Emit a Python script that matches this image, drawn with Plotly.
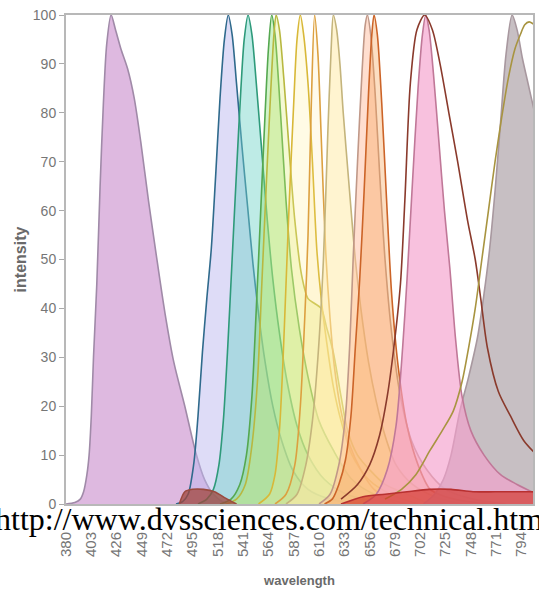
import plotly.graph_objects as go

# ---------------- data (wavelength in nm, relative intensity) ----------------
tick_vals = [380, 403, 426, 449, 472, 495, 518, 541, 564, 587, 610, 633, 656, 679, 702, 725, 748, 771, 794]
tick_text = [str(v) for v in tick_vals]
y_ticks = [0, 10, 20, 30, 40, 50, 60, 70, 80, 90, 100]

violet_wl = [380, 388, 393, 396, 399, 401, 403, 405, 408, 411, 414, 417, 421, 425, 430, 436, 442, 448, 455, 462, 470, 478, 488, 498, 506, 514, 522, 530]
violet_i = [0, 0.3, 1, 2.5, 6, 10, 18, 30, 45, 65, 82, 94, 100, 97, 93, 89, 83, 74, 62, 51, 39, 29, 20, 10.5, 5, 2, 0.5, 0]

blue_wl = [480, 486, 491, 496, 500, 504, 508, 512, 516, 520, 524, 527.5, 531, 535, 540, 545, 550, 555, 561, 568, 576, 586, 600, 620, 650]
blue_i = [0, 0.5, 2, 8, 18, 31, 42, 52, 67, 83, 95, 100, 96, 86, 73, 61, 49, 39, 29, 20, 13, 7, 3, 1, 0]

green_wl = [500, 508, 514, 519, 523, 527, 531, 535, 539, 542, 545.5, 549, 553, 558, 563, 568, 574, 581, 590, 600, 615, 635, 660]
green_i = [0, 1, 3, 8, 17, 32, 50, 68, 85, 95, 100, 96, 86, 72, 58, 46, 35, 25, 16, 10, 5, 2, 0.5]

lgreen_wl = [520, 530, 538, 544, 549, 553, 557, 561, 564, 567, 570, 575, 580, 585, 592, 600, 610, 623, 640, 660, 690]
lgreen_i = [0, 1, 4, 10, 22, 40, 60, 80, 93, 100, 96, 80, 62, 48, 36, 26, 17, 11, 5, 2, 0]

ygreen_wl = [525, 535, 543, 549, 554, 558, 562, 566, 569, 571, 574, 578, 583, 588, 594, 600, 606, 612, 617, 623, 630, 636, 645, 656, 670, 690, 710]
ygreen_i = [0, 1, 4, 12, 25, 45, 65, 84, 96, 100, 97, 87, 72, 58, 47, 42, 41, 40, 36, 31, 22, 15, 10, 7, 4, 2, 0]

gold_wl = [555, 565, 570, 574, 577, 580, 583, 587, 590, 593, 596, 600, 604, 608, 612, 617, 623, 630, 640, 655, 675, 700]
gold_i = [0, 2, 6, 15, 28, 45, 62, 82, 95, 100, 96, 86, 70, 52, 42, 33, 24, 17, 10, 5, 2, 0]

orange_wl = [570, 580, 588, 593, 597, 600, 603, 606, 609, 612, 616, 620, 624, 630, 638, 648, 660, 680]
orange_i = [0, 2, 8, 20, 38, 55, 82, 100, 92, 75, 52, 38, 28, 19, 12, 7, 3, 0]

lyellow_wl = [580, 590, 598, 604, 609, 614, 618, 621, 623, 626, 629, 632, 637, 643, 648, 655, 662, 670, 680, 695, 715, 740]
lyellow_i = [0, 2, 8, 17, 30, 50, 76, 93, 100, 97, 90, 80, 66, 50, 40, 29, 21, 14, 8, 4, 1.5, 0]

peach_wl = [610, 620, 628, 634, 638, 641, 645, 649, 652, 654, 657, 661, 665, 670, 676, 684, 694, 708, 725, 750, 780]
peach_i = [0, 2, 8, 18, 33, 50, 70, 88, 98, 100, 96, 84, 68, 50, 35, 22, 13, 7, 3, 1, 0]

red660_wl = [615, 622, 628, 634, 639, 643, 647, 651, 655, 658, 660, 663, 667, 671, 676, 682, 690, 700, 711, 725, 745, 770]
red660_i = [0, 1, 4, 9, 18, 32, 46, 64, 84, 96, 100, 96, 82, 64, 43, 28, 16, 8, 3, 1.5, 0.5, 0]

gray_wl = [705, 715, 723, 730, 738, 746, 754, 760, 765, 770, 775, 780, 785.5, 790, 795, 800, 806, 812]
gray_i = [0, 2, 5, 10, 19, 26, 34, 43, 52, 64, 78, 92, 100, 97, 91, 86, 80, 74]

pink_wl = [650, 662, 672, 680, 686, 690, 695, 700, 704, 707, 710, 714, 719, 724, 729, 734, 740, 748, 760, 775, 790, 808]
pink_i = [0, 2, 7, 16, 32, 46, 66, 85, 96, 100, 97, 88, 74, 60, 48, 34, 22, 15, 10, 6, 4, 2]

brown_wl = [630, 645, 656, 665, 672, 678, 684, 688, 693, 699, 706, 713, 720, 728, 736, 745, 752, 757, 763, 773, 784, 796, 808]
brown_i = [1, 4, 8, 14, 22, 32, 45, 62, 86, 97, 100, 97, 90, 80, 70, 58, 50, 42, 32, 23, 18, 13, 10]

olive_wl = [670, 685, 698, 711, 722, 732, 740, 746, 752, 758, 764, 770, 776, 782, 788, 793, 797, 801, 806, 812]
olive_i = [1, 3, 6, 11, 15, 19, 25, 32, 40, 50, 60, 70, 79, 87, 93, 96, 98, 98.6, 98, 97]

base1_wl = [483, 488, 495, 505, 515, 525, 535]
base1_i = [0, 2.5, 3, 3, 2.5, 1.2, 0]

base2_wl = [630, 650, 670, 690, 710, 730, 750, 770, 790, 810]
base2_i = [0, 1.5, 2, 2.5, 3, 3, 2.5, 2.5, 2.5, 2.5]

# ---------------- styles ----------------
series = [
    (violet_wl, violet_i, "rgba(214,168,216,0.8)", "#a08aa8"),
    (blue_wl, blue_i, "rgba(190,185,240,0.5)", "#2f6a8c"),
    (green_wl, green_i, "rgba(110,210,200,0.45)", "#2e9a7a"),
    (lgreen_wl, lgreen_i, "rgba(140,225,120,0.4)", "#55a850"),
    (ygreen_wl, ygreen_i, "rgba(220,235,110,0.3)", "#b8b840"),
    (gold_wl, gold_i, "rgba(255,240,150,0.25)", "#d8b838"),
    (orange_wl, orange_i, "rgba(255,220,120,0.15)", "#dca040"),
    (lyellow_wl, lyellow_i, "rgba(255,235,170,0.55)", "#c4b47c"),
    (peach_wl, peach_i, "rgba(255,190,160,0.5)", "#c09888"),
    (red660_wl, red660_i, "rgba(245,160,80,0.35)", "#cc6428"),
    (gray_wl, gray_i, "rgba(185,175,180,0.8)", "#a8989f"),
    (pink_wl, pink_i, "rgba(245,160,205,0.65)", "#c07898"),
    (brown_wl, brown_i, None, "#8a3a2c"),
    (olive_wl, olive_i, None, "#a89440"),
    (base1_wl, base1_i, "rgba(160,70,60,0.75)", "#9a4a40"),
    (base2_wl, base2_i, "rgba(210,50,40,0.65)", "#b83030"),
]

fig = go.Figure()
for wl, inten, fillc, linec in series:
    fig.add_trace(go.Scatter(
        x=wl, y=inten, mode="lines",
        line=dict(color=linec, width=1.6, shape="spline", smoothing=0.8),
        fill="tozeroy" if fillc else None,
        fillcolor=fillc,
        hoverinfo="skip", showlegend=False,
    ))

tick_font = dict(family="Liberation Sans, Arial, sans-serif", size=14, color="#767676")
xtick_font = dict(family="Liberation Sans, Arial, sans-serif", size=15, color="#767676")

fig.update_layout(
    width=539, height=598,
    margin=dict(l=66, r=4, t=15, b=94),
    paper_bgcolor="white", plot_bgcolor="white",
    showlegend=False,
    xaxis=dict(
        range=[380, 804.5], tickmode="array", tickvals=tick_vals, ticktext=tick_text,
        tickangle=-90, tickfont=xtick_font, ticks="outside", ticklen=20, tickcolor="rgba(0,0,0,0)",
        showgrid=False, zeroline=False,
        showline=True, linecolor="#b8b8b8", linewidth=2, mirror=True,
        title=dict(text="<b>wavelength</b>", font=dict(family="Liberation Sans, Arial, sans-serif", size=13, color="#6a6a6a"), standoff=20),
    ),
    yaxis=dict(
        range=[0, 100], tickmode="array", tickvals=y_ticks,
        tickfont=tick_font, ticks="outside", ticklen=5, tickcolor="#aaaaaa",
        showgrid=False, zeroline=False,
        showline=True, linecolor="#b8b8b8", linewidth=2, mirror=True,
        title=dict(text="<b>intensity</b>", font=dict(family="Liberation Sans, Arial, sans-serif", size=16, color="#6a6a6a"), standoff=2),
    ),
    annotations=[dict(
        text="http://www.dvssciences.com/technical.htm",
        xref="paper", yref="paper", x=0.4339, y=-0.0307,
        xanchor="center", yanchor="middle", showarrow=False,
        font=dict(family="Liberation Serif, Times New Roman, serif", size=32, color="black"),
    )],
)

fig.write_html("out.html")
